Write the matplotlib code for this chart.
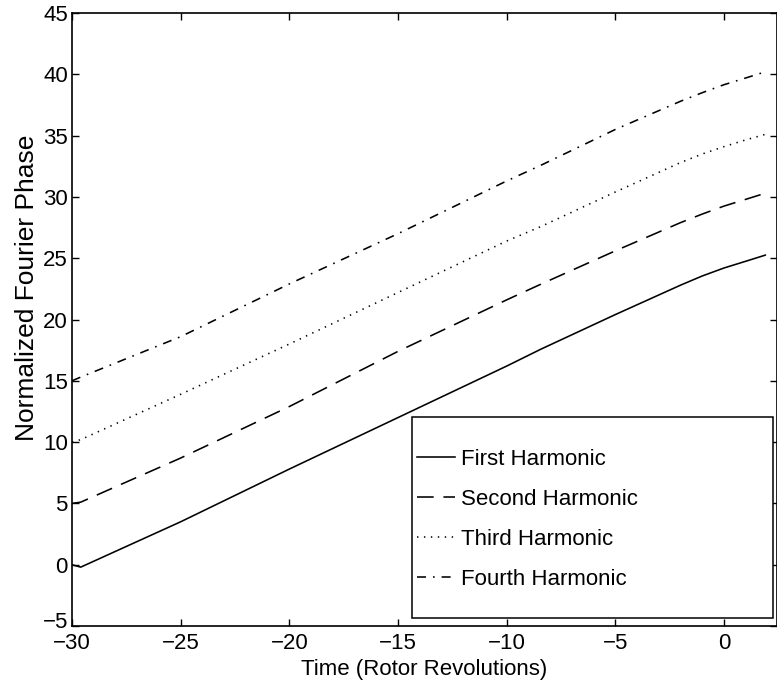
import numpy as np
import matplotlib
matplotlib.use('Agg')
import matplotlib.pyplot as plt
import matplotlib.transforms as mtransforms
from matplotlib.patches import Rectangle

plt.rcParams['font.family'] = ['Liberation Sans', 'DejaVu Sans']
plt.rcParams['font.size'] = 16
plt.rcParams['lines.scale_dashes'] = False

# valeurs (temps en tours rotor)
time = [-30, -29.6, -25, -20, -15, -10, -8.4, -5, -2, -1, 0, 1, 1.9]
first = [0.0, -0.2, 3.5, 7.8, 12.0, 16.2, 17.6, 20.4, 22.8, 23.55, 24.2, 24.75, 25.25]
second = [5.0, 5.1, 8.7, 12.9, 17.4, 21.6, 22.9, 25.6, 27.9, 28.6, 29.25, 29.8, 30.3]
third = [10.0, 10.2, 13.9, 18.0, 22.2, 26.4, 27.6, 30.4, 32.8, 33.5, 34.1, 34.65, 35.1]
fourth = [15.0, 15.3, 18.6, 22.9, 27.0, 31.3, 32.6, 35.5, 37.8, 38.5, 39.15, 39.7, 40.2]

labels = ['First Harmonic', 'Second Harmonic', 'Third Harmonic', 'Fourth Harmonic']

fig = plt.figure(figsize=(7.77, 6.9), dpi=100)
# axes: x 72..777 px, y 13..626 px
ax = fig.add_axes([72 / 777, 64 / 690, 705 / 777, 613 / 690])

lw = 1.15
ax.plot(time, first, color='black', lw=lw, linestyle='-', label=labels[0])
ax.plot(time, second, color='black', lw=lw, dashes=(12, 7), label=labels[1])
ax.plot(time, third, color='black', lw=lw, dashes=(1, 4), label=labels[2])
ax.plot(time, fourth, color='black', lw=lw, dashes=(6.5, 5, 1.2, 5), label=labels[3])

ax.set_xlim(-30, 2.44)
ax.set_ylim(-5, 45)
ax.set_xticks(np.arange(-30, 1, 5))
ax.set_yticks(np.arange(-5, 46, 5))
ax.tick_params(direction='in', top=True, right=True, length=5, width=1)
ax.tick_params(axis='x', pad=5)
ax.tick_params(axis='y', pad=3)
for s in ax.spines.values():
    s.set_linewidth(1.2)

fig.canvas.draw()
# le -5 remonte un peu, comme sur l'original
lab = ax.yaxis.get_majorticklabels()[0]
lab.set_transform(lab.get_transform() + mtransforms.ScaledTranslation(0, 6 / 100, fig.dpi_scale_trans))

ax.set_xlabel('Time (Rotor Revolutions)', labelpad=4)
ax.set_ylabel('Normalized Fourier Phase', fontsize=19)
ax.yaxis.set_label_coords(-0.047, 0.551)

# cadre de la légende
ax.add_patch(Rectangle((412 / 777, 72 / 690), 361 / 777, 201 / 690,
                       transform=fig.transFigure, facecolor='white',
                       edgecolor='black', linewidth=1.1, zorder=4, clip_on=False))
leg = ax.legend(loc='upper left', bbox_to_anchor=(417 / 777, 241 / 690),
                bbox_transform=fig.transFigure, frameon=False, borderpad=0,
                borderaxespad=0, handlelength=1.7, handletextpad=0.3,
                labelspacing=0.85)
leg.set_zorder(5)

plt.savefig('out.png', dpi=100)
